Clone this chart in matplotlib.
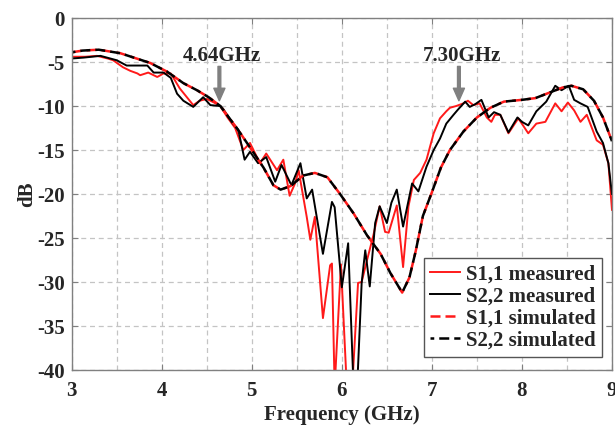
import matplotlib
matplotlib.use('Agg')
import matplotlib.pyplot as plt
from matplotlib.ticker import MultipleLocator

plt.rcParams['font.family'] = ['Liberation Serif', 'DejaVu Serif']
plt.rcParams['font.weight'] = 'bold'
plt.rcParams['font.size'] = 15
plt.rcParams['axes.unicode_minus'] = False

# measured S1,1
f_s11 = [3.00, 3.15, 3.28, 3.40, 3.46, 3.57, 3.65, 3.73, 3.76, 3.85, 3.95, 4.02, 4.10, 4.20,
         4.35, 4.42, 4.50, 4.58, 4.65, 4.73, 4.815, 4.906, 4.98, 5.09, 5.16, 5.28, 5.35, 5.42,
         5.48, 5.52, 5.61, 5.65, 5.70, 5.79, 5.87, 5.89, 5.92, 5.99, 6.06, 6.12, 6.18, 6.22,
         6.27, 6.35, 6.42, 6.48, 6.52, 6.61, 6.68, 6.74, 6.80, 6.87, 6.94, 7.02, 7.09, 7.16,
         7.20, 7.27, 7.35, 7.40, 7.46, 7.53, 7.61, 7.66, 7.70, 7.76, 7.85, 7.96, 8.07, 8.16,
         8.26, 8.37, 8.44, 8.51, 8.58, 8.65, 8.72, 8.83, 8.90, 8.96, 9.00]
s11_meas = [-4.4, -4.4, -4.3, -4.6, -4.8, -5.6, -6.0, -6.3, -6.5, -6.2, -6.7, -6.3, -6.3, -8.0,
            -9.9, -9.4, -9.2, -9.6, -10.0, -11.3, -12.5, -15.0, -14.2, -16.5, -15.4, -17.3, -16.1, -20.2,
            -18.8, -17.3, -22.6, -25.2, -22.6, -34.1, -28.1, -27.9, -42.0, -28.0, -43.0, -41.0, -30.1, -30.0,
            -27.9, -24.7, -21.4, -24.3, -24.4, -21.3, -28.3, -21.4, -18.4, -17.6, -16.1, -13.1, -11.4, -10.6,
            -10.2, -10.0, -9.7, -9.4, -9.9, -9.7, -11.3, -11.8, -11.0, -11.0, -13.1, -11.4, -13.1, -12.0,
            -11.8, -9.7, -10.6, -9.6, -10.5, -11.8, -11.0, -13.9, -14.4, -16.5, -21.8]

# measured S2,2
f_s22 = [3.00, 3.13, 3.32, 3.50, 3.61, 3.72, 3.84, 3.91, 4.02, 4.10, 4.17, 4.24, 4.35, 4.46,
         4.54, 4.65, 4.68, 4.79, 4.85, 4.92, 4.98, 5.07, 5.16, 5.26, 5.33, 5.44, 5.54, 5.61,
         5.67, 5.79, 5.89, 5.92, 6.00, 6.07, 6.13, 6.17, 6.22, 6.26, 6.31, 6.37, 6.42, 6.50,
         6.55, 6.61, 6.68, 6.78, 6.85, 6.94, 7.02, 7.09, 7.16, 7.24, 7.29, 7.37, 7.42, 7.48,
         7.55, 7.63, 7.69, 7.76, 7.85, 7.95, 8.00, 8.07, 8.16, 8.27, 8.37, 8.44, 8.52, 8.58,
         8.65, 8.73, 8.83, 8.90, 8.96, 9.00]
s22_meas = [-4.6, -4.5, -4.3, -4.8, -5.4, -5.4, -5.4, -6.2, -6.2, -6.8, -8.6, -9.4, -10.1, -9.0,
            -9.9, -10.0, -10.3, -12.0, -12.7, -16.1, -15.2, -16.5, -15.8, -18.6, -16.7, -19.0, -16.5, -20.5,
            -19.5, -26.8, -20.9, -21.5, -30.6, -25.6, -42.0, -42.0, -30.1, -26.4, -30.5, -23.3, -21.4, -23.3,
            -21.0, -19.5, -23.7, -18.8, -19.7, -16.9, -15.0, -13.7, -12.0, -11.0, -10.4, -9.5, -10.1, -9.8,
            -9.3, -11.3, -10.7, -11.0, -13.0, -11.3, -11.8, -12.2, -10.6, -9.5, -7.7, -8.2, -7.7, -9.3,
            -9.7, -10.1, -12.9, -14.2, -16.5, -20.0]

# simulated S1,1 and S2,2
f_sim = [3.00, 3.12, 3.30, 3.54, 3.72, 3.87, 4.06, 4.24, 4.39, 4.52, 4.65, 4.84, 4.98, 5.13,
         5.24, 5.32, 5.43, 5.57, 5.70, 5.84, 5.98, 6.13, 6.28, 6.43, 6.54, 6.67, 6.75, 6.82,
         6.90, 7.00, 7.10, 7.20, 7.35, 7.50, 7.65, 7.80, 8.00, 8.15, 8.30, 8.45, 8.55, 8.68,
         8.80, 8.90, 9.00]
sim_s11 = [-3.9, -3.7, -3.6, -4.0, -4.6, -5.1, -6.1, -7.4, -8.2, -9.0, -10.0, -12.6, -14.7, -17.0,
           -19.0, -19.5, -19.1, -17.9, -17.6, -18.1, -20.0, -22.2, -24.7, -26.8, -29.0, -31.2, -29.5, -26.5,
           -22.5, -19.8, -17.0, -15.0, -12.9, -11.3, -10.2, -9.5, -9.3, -9.1, -8.5, -7.9, -7.7, -8.1,
           -9.4, -11.3, -14.0]
sim_s22 = [-3.9, -3.7, -3.6, -4.0, -4.6, -5.1, -6.1, -7.4, -8.2, -9.0, -10.0, -12.6, -14.7, -17.0,
           -19.0, -19.5, -19.1, -17.9, -17.6, -18.1, -20.0, -22.2, -24.7, -26.8, -29.0, -31.2, -29.5, -26.5,
           -22.5, -19.8, -17.0, -15.0, -12.9, -11.3, -10.2, -9.5, -9.3, -9.1, -8.5, -7.9, -7.7, -8.1,
           -9.4, -11.3, -14.0]

# marked frequencies
marker_f = [4.64, 7.30]
marker_db = [-9.4, -9.4]
marker_text = ['4.64GHz', '7.30GHz']

fig = plt.figure(figsize=(6.15, 4.25), dpi=100)
ax = fig.add_axes([0.1166, 0.1294, 0.8785, 0.8282])

ax.plot(f_s11, s11_meas, color='#ff1a1a', lw=1.4, label='S1,1 measured')
ax.plot(f_s22, s22_meas, color='black', lw=1.4, label='S2,2 measured')
ax.plot(f_sim, sim_s11, color='#ff1a1a', lw=1.8, linestyle=(0, (4, 2)), label='S1,1 simulated')
ax.plot(f_sim, sim_s22, color='black', lw=1.8, linestyle=(2.5, (4, 2)), label='S2,2 simulated')

# arrows pointing at the band edges
for fm, dbm, txt in zip(marker_f, marker_db, marker_text):
    ax.annotate('', xy=(fm, dbm), xytext=(fm, dbm + 3.9),
                arrowprops=dict(facecolor='#808080', edgecolor='#808080', width=2,
                                headwidth=8, headlength=9, shrink=0))
    ax.text(fm + 0.03, dbm + 4.5, txt, ha='center', va='baseline', fontsize=15,
            fontweight='bold', color='#262626')

ax.set_xlim(3, 9)
ax.set_ylim(-40, 0)
ax.xaxis.set_major_locator(MultipleLocator(1))
ax.xaxis.set_minor_locator(MultipleLocator(0.5))
ax.yaxis.set_major_locator(MultipleLocator(5))
ax.grid(True, which='both', axis='x', color='#c4c4c4', linestyle=(0, (4, 3)), lw=0.9)
ax.grid(True, which='major', axis='y', color='#c4c4c4', linestyle=(0, (4, 3)), lw=0.9)
ax.set_axisbelow(True)

ax.tick_params(which='both', direction='in', top=True, right=True, color='#808080',
               labelcolor='#262626', labelsize=15)
ax.tick_params(which='major', length=4)
ax.tick_params(axis='x', which='major', pad=8)
ax.tick_params(axis='y', which='major', pad=5)
ax.tick_params(which='minor', length=0)
for s in ax.spines.values():
    s.set_color('#808080')
    s.set_linewidth(1.0)

ax.set_xlabel('Frequency (GHz)', fontsize=15, fontweight='bold', color='#262626', labelpad=3)
ax.set_ylabel('dB', fontsize=15, fontweight='bold', color='#262626', labelpad=0)

leg = ax.legend(loc='lower right', bbox_to_anchor=(0.981, 0.037), fontsize=15,
                frameon=True, fancybox=False, edgecolor='#555555', framealpha=1,
                handlelength=1.4, handletextpad=0.3, labelspacing=0.1, borderpad=0.3,
                borderaxespad=0)
leg.get_frame().set_linewidth(1.0)
for t in leg.get_texts():
    t.set_color('#262626')

fig.savefig('out.png', dpi=100)
